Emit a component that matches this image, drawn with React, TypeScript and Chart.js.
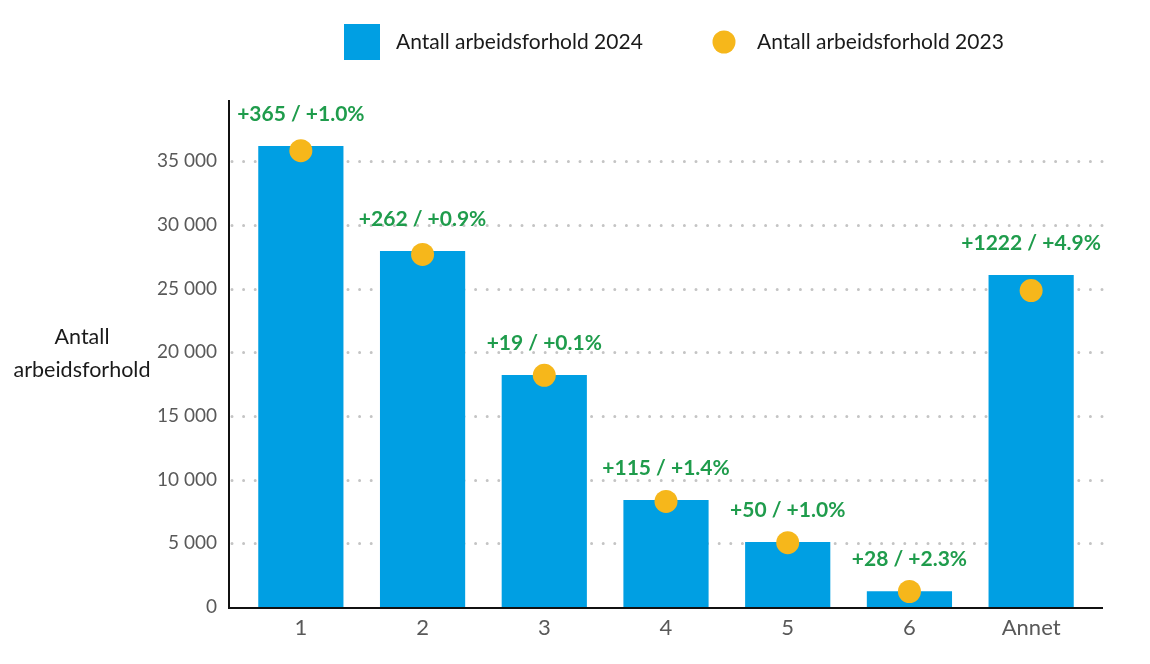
import React, { useEffect, useRef } from "react";
import { Chart, registerables } from "chart.js";

Chart.register(...registerables);

// Employment relationships per category
const categories = ["1", "2", "3", "4", "5", "6", "Annet"];
const values2024 = [36185, 27943, 18210, 8399, 5102, 1245, 26060];
const change = [365, 262, 19, 115, 50, 28, 1222];
const values2023 = values2024.map((v, i) => v - change[i]);
const yTicks = [0, 5000, 10000, 15000, 20000, 25000, 30000, 35000];

const series2024Label = "Antall arbeidsforhold 2024";
const series2023Label = "Antall arbeidsforhold 2023";
const yTitleLines = ["Antall", "arbeidsforhold"];

const BLUE = "#009FE3";
const YELLOW = "#F6B71B";
const GREEN = "#1F9C4C";
const GREY = "#595959";
const FONT = "Lato";

const fmt = (v: number) => String(v).replace(/\B(?=(\d{3})+(?!\d))/g, " ");

const decor = {
  id: "decor",
  beforeDatasetsDraw(chart: any) {
    const { ctx, chartArea: a, scales } = chart;
    const y = scales.y;
    const l = a.left - 11;
    const r = a.right + 11;
    ctx.save();
    ctx.strokeStyle = "#c4c4c4";
    ctx.lineWidth = 3;
    ctx.lineCap = "round";
    ctx.setLineDash([0, 11.6]);
    y.ticks.forEach((t: any) => {
      if (t.value <= 0) return;
      const py = Math.round(y.getPixelForValue(t.value)) + 0.5;
      ctx.beginPath();
      ctx.moveTo(l + 3, py);
      ctx.lineTo(r, py);
      ctx.stroke();
    });
    ctx.restore();
  },
  afterDatasetsDraw(chart: any) {
    const { ctx, chartArea: a } = chart;
    const l = a.left - 11;
    const r = a.right + 11;
    ctx.save();
    // axis lines
    ctx.strokeStyle = "#111";
    ctx.lineWidth = 2;
    ctx.beginPath();
    ctx.moveTo(l, a.top);
    ctx.lineTo(l, a.bottom + 1);
    ctx.lineTo(r, a.bottom + 1);
    ctx.stroke();

    // change labels above bars
    const meta = chart.getDatasetMeta(0);
    ctx.fillStyle = GREEN;
    ctx.font = `bold 21px ${FONT}`;
    ctx.textAlign = "center";
    ctx.textBaseline = "middle";
    meta.data.forEach((bar: any, i: number) => {
      const pct = ((change[i] / values2023[i]) * 100).toFixed(1);
      ctx.fillText(`+${change[i]} / +${pct}%`, bar.x, bar.y - 32);
    });
    ctx.restore();
  },
  afterDraw(chart: any) {
    const { ctx, chartArea: a } = chart;
    ctx.save();
    // legend
    ctx.fillStyle = BLUE;
    ctx.fillRect(336, 16, 36, 36);
    ctx.fillStyle = YELLOW;
    ctx.beginPath();
    ctx.arc(716, 34, 11.5, 0, Math.PI * 2);
    ctx.fill();
    ctx.fillStyle = "#1a1a1a";
    ctx.font = `21px ${FONT}`;
    ctx.textAlign = "left";
    ctx.textBaseline = "middle";
    ctx.fillText(series2024Label, 388, 34);
    ctx.fillText(series2023Label, 749, 34);

    // y-axis title
    ctx.font = `21.5px ${FONT}`;
    ctx.textAlign = "center";
    const cy = (a.top + a.bottom) / 2;
    ctx.fillText(yTitleLines[0], 74, cy - 16.5);
    ctx.fillText(yTitleLines[1], 74, cy + 16.5);
    ctx.restore();
  },
};

export default function App() {
  const ref = useRef<HTMLCanvasElement>(null);

  useEffect(() => {
    if (!ref.current) return;
    const chart = new Chart(ref.current, {
      type: "bar",
      data: {
        labels: categories,
        datasets: [
          {
            type: "bar",
            label: series2024Label,
            data: values2024,
            backgroundColor: BLUE,
            borderWidth: 0,
            categoryPercentage: 0.7,
            barPercentage: 1,
            order: 2,
          },
          {
            type: "line",
            label: series2023Label,
            data: values2023,
            showLine: false,
            pointRadius: 11.5,
            pointHoverRadius: 11.5,
            pointBackgroundColor: YELLOW,
            pointBorderWidth: 0,
            borderWidth: 0,
            order: 1,
          },
        ] as any,
      },
      options: {
        animation: false,
        responsive: true,
        maintainAspectRatio: false,
        layout: { padding: { top: 92, right: 50, left: 0, bottom: 0 } },
        plugins: { legend: { display: false }, tooltip: { enabled: false } },
        scales: {
          x: {
            grid: { display: false, drawTicks: false },
            border: { display: false },
            ticks: { color: GREY, font: { family: FONT, size: 22 }, padding: 8 },
            afterFit: (s: any) => {
              s.height = 50;
            },
          },
          y: {
            min: 0,
            max: 39800,
            grid: { display: false, drawTicks: false },
            border: { display: false },
            afterBuildTicks: (s: any) => {
              s.ticks = yTicks.map((v) => ({ value: v }));
            },
            ticks: {
              color: GREY,
              font: { family: FONT, size: 19 },
              padding: 23,
              callback: (v: any) => fmt(Number(v)),
            },
            afterFit: (s: any) => {
              s.width = 232;
            },
          },
        },
      },
      plugins: [decor],
    });
    return () => chart.destroy();
  }, []);

  return (
    <div style={{ position: "relative", width: 1134, height: 649 }}>
      <canvas ref={ref} />
    </div>
  );
}
